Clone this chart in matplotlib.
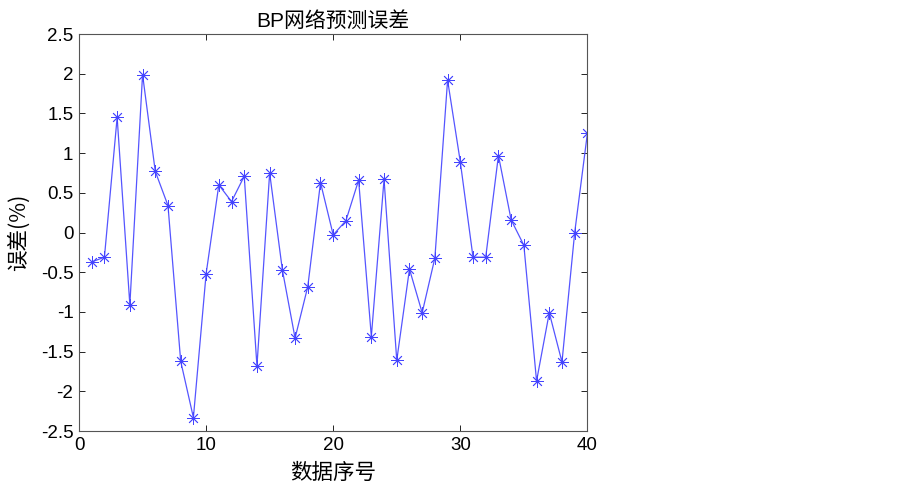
import numpy as np
import matplotlib
matplotlib.use('Agg')
import matplotlib.pyplot as plt

plt.rcParams['font.family'] = ['Liberation Sans', 'Noto Sans CJK SC', 'DejaVu Sans']

# 数据序号 / 预测误差(%)
idx = list(range(1, 41))
err = [-0.37, -0.31, 1.45, -0.91, 1.99, 0.77, 0.34, -1.62, -2.33, -0.52,
       0.60, 0.39, 0.71, -1.68, 0.75, -0.47, -1.33, -0.68, 0.63, -0.03,
       0.15, 0.66, -1.31, 0.67, -1.61, -0.46, -1.01, -0.32, 1.92, 0.89,
       -0.31, -0.31, 0.97, 0.16, -0.16, -1.87, -1.01, -1.63, 0.00, 1.25]

xticks = [0, 10, 20, 30, 40]
yticks = [-2.5, -2, -1.5, -1, -0.5, 0, 0.5, 1, 1.5, 2, 2.5]
ytick_labels = ['-2.5', '-2', '-1.5', '-1', '-0.5', '0', '0.5', '1', '1.5', '2', '2.5']

fig = plt.figure(figsize=(9.03, 4.86), dpi=100)
ax = fig.add_axes([0.0875, 0.113, 0.563, 0.817])

# matlab 风格的 '*' 标记（八角星号）
ax.plot(idx, err, color='#5555ff', linewidth=0.9, marker=(8, 2, 0), markersize=9,
        markeredgecolor='#4444ff', markeredgewidth=0.6)

ax.set_xlim(0, 40)
ax.set_ylim(-2.5, 2.5)
ax.set_xticks(xticks)
ax.set_yticks(yticks)
ax.set_yticklabels(ytick_labels)
ax.tick_params(direction='in', length=4, labelsize=13.5, top=True, right=True,
               width=0.6, pad=4)
for s in ax.spines.values():
    s.set_color('#555555')
    s.set_linewidth(0.8)

ax.set_title('BP网络预测误差', fontsize=15, pad=5,
             family=['Liberation Sans', 'Noto Sans CJK SC'])
ax.set_xlabel('数据序号', fontsize=15.5, family=['Noto Sans CJK SC'], labelpad=6)
ax.set_ylabel('误差(%)', fontsize=15.5, family=['Noto Sans CJK SC', 'Liberation Sans'],
              labelpad=8)

fig.savefig('out.png', dpi=100)
